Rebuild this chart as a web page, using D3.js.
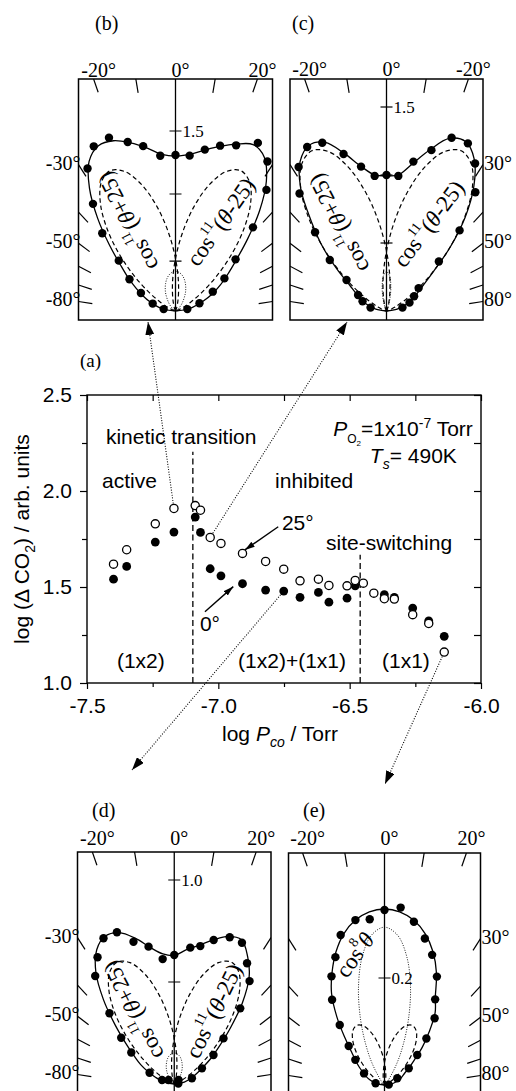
<!DOCTYPE html>
<html><head><meta charset="utf-8">
<script src="https://cdn.jsdelivr.net/npm/d3@7"></script>
<style>body{margin:0;background:#fff}svg{display:block}</style>
</head><body>
<svg id="c" width="516" height="1091"></svg>
<script>
// ---------------- main chart (a) data ----------------
const pco25  = [-7.399,-7.349,-7.240,-7.169,-7.088,-7.068,-7.031,-6.990,-6.908,-6.820,-6.751,-6.689,-6.619,-6.579,-6.510,-6.479,-6.448,-6.408,-6.368,-6.330,-6.260,-6.199,-6.140];
const co2At25 = [1.619,1.694,1.829,1.909,1.924,1.900,1.758,1.727,1.675,1.633,1.593,1.532,1.541,1.508,1.506,1.534,1.520,1.468,1.439,1.437,1.356,1.310,1.161];
const pco0   = [-7.399,-7.349,-7.240,-7.169,-7.088,-7.068,-7.031,-6.990,-6.908,-6.820,-6.751,-6.689,-6.619,-6.579,-6.510,-6.479,-6.368,-6.330,-6.260,-6.199,-6.140];
const co2At0  = [1.541,1.607,1.734,1.786,1.864,1.784,1.595,1.558,1.517,1.484,1.479,1.446,1.472,1.421,1.442,1.506,1.460,1.446,1.390,1.324,1.243];
const xTickVals = [-7.5,-7.0,-6.5,-6.0];
const xMinorVals = [-7.25,-6.75,-6.25];
const yTickVals = [1.0,1.5,2.0,2.5];
const yMinorVals = [1.25,1.75,2.25];
const transitionX = [-7.097,-6.46];
const transitionTop = [2.205,1.668];

// ---------------- polar panels data (angle in deg, radial value) ----------------
const fitAngles = [-90,-80,-70,-65,-60,-55,-50,-45,-40,-35,-30,-25,-20,-15,-10,-5,0,5,10,15,20,25,30,35,40,45,50,55,60,65,70,80,90];
const lobeAngles = [-35,-30,-25,-20,-15,-10,-5,0,5,10,15,20,25,30,35,40,45,50,55,60,65,70,75,80,90];
const dotAngles = [-90,-60,-50,-40,-30,-25,-20,-15,-10,-5,0,5,10,15,20,25,30,40,50,60,90];
const borderTopAngles = [-20,-10,10,20];
const borderSideAngles = [30,40,50,60,70,80];

// (b)
const bAng = [-81,-72,-62.5,-55.4,-48.4,-43.3,-37.6,-31.7,-26.4,-21.0,-15.8,-11.1,-5.6,0,5.2,10.3,15.1,20.1,26.1,31.6,36.9,42.8,49.3,56.3,62.6,72,81];
const bVal = [0.1,0.2,0.325,0.466,0.632,0.89,1.127,1.395,1.532,1.547,1.463,1.4,1.30,1.30,1.30,1.367,1.427,1.47,1.56,1.462,1.262,0.95,0.66,0.49,0.35,0.21,0.1];
const bFit = [0,0.12,0.23,0.3,0.38,0.48,0.6,0.78,1.01,1.25,1.44,1.52,1.51,1.45,1.38,1.31,1.29,1.31,1.36,1.42,1.48,1.53,1.48,1.32,1.09,0.85,0.66,0.53,0.43,0.34,0.25,0.12,0];
const bLobe = [0.001,0.003,0.01,0.028,0.068,0.143,0.266,0.437,0.651,0.881,1.09,1.237,1.29,1.237,1.09,0.881,0.651,0.437,0.266,0.143,0.068,0.028,0.01,0.003,0];
const bDot = [0,0.01,0.036,0.087,0.161,0.202,0.242,0.278,0.306,0.324,0.33,0.324,0.306,0.278,0.242,0.202,0.161,0.087,0.036,0.01,0];
// (c)
const cAng = [-78,-68,-60.6,-52.2,-48,-42.2,-36.5,-31.4,-25.8,-20.9,-15.3,-10,-5,0,5,10.2,15.6,20.6,25.9,31,36.8,42.2,46.6,54.5,62,70,78];
const cVal = [0.12,0.19,0.24,0.372,0.561,0.782,1.075,1.24,1.34,1.324,1.197,1.078,0.997,1.0,0.997,1.116,1.228,1.361,1.37,1.265,1.091,0.8,0.53,0.29,0.23,0.18,0.12];
const cFit = [0,0.08,0.17,0.21,0.26,0.33,0.47,0.66,0.86,1.1,1.27,1.345,1.32,1.2,1.08,1.005,0.995,1.005,1.1,1.225,1.35,1.375,1.29,1.12,0.9,0.66,0.45,0.33,0.26,0.21,0.17,0.08,0];
const cLobe = [0.001,0.003,0.01,0.029,0.069,0.144,0.268,0.441,0.657,0.888,1.099,1.247,1.3,1.247,1.099,0.888,0.657,0.441,0.268,0.144,0.069,0.029,0.01,0.003,0];
const cDot = [0,0,0,0,0.004,0.015,0.045,0.102,0.183,0.259,0.29,0.259,0.183,0.102,0.045,0.015,0.004,0,0,0,0];
// (d)
const dAng = [-72,-65.4,-55,-53.8,-48.9,-42.5,-36.2,-31.2,-25.9,-20.7,-16,-10.6,-5.3,0,6.7,10.7,15.3,20.7,25.6,31.1,36.2,41.1,47,47.2,53.6,60.5,72,85];
const dVal = [0.063,0.133,0.034,0.261,0.345,0.47,0.656,0.726,0.794,0.795,0.725,0.685,0.615,0.632,0.673,0.688,0.732,0.769,0.768,0.691,0.625,0.492,0.029,0.329,0.239,0.156,0.091,0.02];
const dFit = [0,0.05,0.1,0.14,0.19,0.24,0.31,0.41,0.54,0.67,0.76,0.8,0.79,0.74,0.68,0.64,0.63,0.66,0.69,0.73,0.77,0.78,0.72,0.64,0.52,0.39,0.29,0.22,0.16,0.12,0.09,0.05,0];
const dLobe = [0,0.001,0.005,0.015,0.035,0.073,0.136,0.224,0.333,0.451,0.558,0.633,0.66,0.633,0.558,0.451,0.333,0.224,0.136,0.073,0.035,0.015,0.005,0.001,0];
const dDot = [0,0.005,0.017,0.04,0.074,0.093,0.111,0.128,0.141,0.149,0.152,0.149,0.141,0.128,0.111,0.093,0.074,0.04,0.017,0.005,0];
// (e)
const eAng = [-79,-60.5,-49.2,-42.5,-36.7,-31.6,-26,-21,-16.3,-10,-5.1,0,5.2,10.2,15.4,20.1,25.8,30.6,36.9,42,47.5,55.5,62.2,85];
const eVal = [0.017,0.044,0.072,0.099,0.14,0.187,0.226,0.256,0.292,0.313,0.311,0.327,0.333,0.31,0.284,0.259,0.225,0.186,0.156,0.117,0.083,0.055,0.027,0.008];
const eFit = [0,0.016,0.03,0.038,0.046,0.057,0.07,0.087,0.115,0.155,0.198,0.232,0.265,0.293,0.313,0.325,0.329,0.325,0.313,0.293,0.265,0.23,0.19,0.165,0.13,0.1,0.073,0.056,0.043,0.036,0.03,0.016,0];
const eLobe = [0,0,0.001,0.003,0.007,0.014,0.025,0.042,0.062,0.084,0.104,0.118,0.123,0.118,0.104,0.084,0.062,0.042,0.025,0.014,0.007,0.003,0.001,0,0];
const eDot = [0,0,0.001,0.009,0.045,0.082,0.131,0.188,0.242,0.281,0.295,0.281,0.242,0.188,0.131,0.082,0.045,0.009,0.001,0,0];

// ---------------- drawing ----------------
const SANS = "'Liberation Sans', Arial, Helvetica, sans-serif";
const SERIF = "'Liberation Serif', 'Times New Roman', Times, serif";
const svg = d3.select('#c');
svg.append('rect').attr('width',516).attr('height',1091).attr('fill','#fff');
const defs = svg.append('defs');
function marker(id, len, wid){
  defs.append('marker').attr('id',id).attr('viewBox',`0 0 ${len} ${wid}`)
    .attr('refX',len).attr('refY',wid/2).attr('markerWidth',len).attr('markerHeight',wid)
    .attr('markerUnits','userSpaceOnUse').attr('orient','auto')
    .append('path').attr('d',`M0,0 L${len},${wid/2} L0,${wid} Z`).attr('fill','#000');
}
marker('ahBig',13,9);
marker('ahSmall',10,6);

// main chart scales
const x = d3.scaleLinear().domain([-7.5,-6.0]).range([87,481]);
const y = d3.scaleLinear().domain([1.0,2.5]).range([683,395]);
const main = svg.append('g');
const fmt = d => d.toFixed(1);

function styleAxis(sel){
  sel.selectAll('path.domain').remove();
  sel.selectAll('line').attr('stroke','#000').attr('stroke-width',1.2);
  sel.selectAll('text').attr('font-family',SANS).attr('font-size',21).attr('fill','#000');
}
main.append('g').attr('transform',`translate(0,${y(1)})`)
  .call(d3.axisBottom(x).tickValues(xTickVals).tickFormat(fmt).tickSize(6).tickPadding(9)).call(styleAxis);
main.append('g').attr('transform',`translate(0,${y(1)})`)
  .call(d3.axisBottom(x).tickValues(xMinorVals).tickFormat('').tickSize(4)).call(styleAxis);
main.append('g').attr('transform',`translate(0,${y(2.5)})`)
  .call(d3.axisTop(x).tickValues(xTickVals.concat(xMinorVals)).tickFormat('').tickSize(-6)).call(styleAxis);
main.append('g').attr('transform',`translate(${x(-7.5)},0)`)
  .call(d3.axisLeft(y).tickValues(yTickVals).tickFormat(fmt).tickSize(7).tickPadding(8)).call(styleAxis);
main.append('g').attr('transform',`translate(${x(-7.5)},0)`)
  .call(d3.axisLeft(y).tickValues(yMinorVals).tickFormat('').tickSize(5)).call(styleAxis);
main.append('g').attr('transform',`translate(${x(-6.0)},0)`)
  .call(d3.axisRight(y).tickValues(yTickVals.concat(yMinorVals)).tickFormat('').tickSize(-7)).call(styleAxis);
main.append('rect').attr('x',x(-7.5)).attr('y',y(2.5)).attr('width',x(-6)-x(-7.5)).attr('height',y(1)-y(2.5))
  .attr('fill','none').attr('stroke','#000').attr('stroke-width',1.4);

main.selectAll('line.trans').data(d3.zip(transitionX,transitionTop)).join('line')
  .attr('x1',d=>x(d[0])).attr('x2',d=>x(d[0])).attr('y1',y(1)).attr('y2',d=>y(d[1]))
  .attr('stroke','#000').attr('stroke-width',1.3).attr('stroke-dasharray','6,3.5');

const linkArrows = [
  {from:[-7.169,1.909], to:[148,322]},
  {from:[-7.031,1.758], to:[347,322]},
  {from:[-6.751,1.479], to:[132,770]},
  {from:[-6.140,1.161], to:[385,784]}
];
linkArrows.forEach(a=>{
  const sx=x(a.from[0]), sy=y(a.from[1]);
  const dx=a.to[0]-sx, dy=a.to[1]-sy, L=Math.hypot(dx,dy);
  main.append('line').attr('x1',sx+dx/L*5).attr('y1',sy+dy/L*5).attr('x2',a.to[0]).attr('y2',a.to[1])
    .attr('stroke','#000').attr('stroke-width',1.1).attr('stroke-dasharray','1,1.6')
    .attr('marker-end','url(#ahBig)');
});

main.selectAll('circle.f').data(d3.zip(pco0,co2At0)).join('circle')
  .attr('cx',d=>x(d[0])).attr('cy',d=>y(d[1])).attr('r',4.4).attr('fill','#000');
main.selectAll('circle.o').data(d3.zip(pco25,co2At25)).join('circle')
  .attr('cx',d=>x(d[0])).attr('cy',d=>y(d[1])).attr('r',4.1).attr('fill','#fff').attr('stroke','#000').attr('stroke-width',1.3);

const angleArrows = [
  {from:[-6.772,1.814], to:[-6.899,1.693]},
  {from:[-7.051,1.371], to:[-6.943,1.502]}
];
angleArrows.forEach(a=>{
  main.append('line').attr('x1',x(a.from[0])).attr('y1',y(a.from[1])).attr('x2',x(a.to[0])).attr('y2',y(a.to[1]))
    .attr('stroke','#000').attr('stroke-width',1.4).attr('marker-end','url(#ahSmall)');
});

function ann(html, xv, yv, anchor, font, size){
  main.append('text').attr('x',x(xv)).attr('y',y(yv)).attr('text-anchor',anchor||'start')
    .attr('font-family',font||SANS).attr('font-size',size||21).attr('fill','#000').html(html);
}
ann('kinetic transition',-7.428,2.245);
ann('active',-7.443,2.016);
ann('inhibited',-6.784,2.016);
ann('<tspan font-style="italic">P</tspan><tspan font-size="12" dy="7">O</tspan><tspan font-size="8" dy="3">2</tspan><tspan dy="-10">=1x10</tspan><tspan font-size="14" dy="-8">-7</tspan><tspan dy="8"> Torr</tspan>',-6.031,2.286,'end');
ann('<tspan font-style="italic">T</tspan><tspan font-style="italic" font-size="14" dy="6">s</tspan><tspan dy="-6">= 490K</tspan>',-6.092,2.146,'end');
ann('25°',-6.758,1.797);
ann('site-switching',-6.59,1.693);
ann('0°',-7.07,1.271);
ann('(1x2)',-7.386,1.078);
ann('(1x2)+(1x1)',-6.925,1.078);
ann('(1x1)',-6.377,1.078);
ann('(a)',-7.527,2.646,'start',SERIF,19);

main.append('text').attr('x',280).attr('y',741).attr('text-anchor','middle')
  .attr('font-family',SANS).attr('font-size',21).attr('fill','#000')
  .html('log <tspan font-style="italic">P</tspan><tspan font-style="italic" font-size="14" dy="6">co</tspan><tspan dy="-6"> / Torr</tspan>');
main.append('text').attr('transform',`translate(29,${(y(1)+y(2.5))/2}) rotate(-90)`).attr('text-anchor','middle')
  .attr('font-family',SANS).attr('font-size',21).attr('fill','#000')
  .html('log (Δ CO<tspan font-size="14" dy="6">2</tspan><tspan dy="-6">) / arb. units</tspan>');

// ---------------- polar panels ----------------
const rad = d => d*Math.PI/180;
function polarPanel(p){
  const cx = p.left + p.width/2, oy = p.top + 232;
  const tcy = p.top + 238;
  const r = d3.scaleLinear().domain([0,1]).range([0,p.k]);
  const g = svg.append('g');
  const clipId = 'clip'+p.id;
  defs.append('clipPath').attr('id',clipId).append('rect')
    .attr('x',p.left).attr('y',p.top).attr('width',p.width).attr('height',p.height);
  const inner = g.append('g').attr('clip-path',`url(#${clipId})`);
  inner.append('line').attr('x1',cx).attr('x2',cx).attr('y1',p.top).attr('y2',p.top+p.height)
    .attr('stroke','#000').attr('stroke-width',1.3);
  const tl = 14;
  function tick(px,py){
    const dx=cx-px, dy=tcy-py, L=Math.hypot(dx,dy);
    inner.append('line').attr('x1',px).attr('y1',py).attr('x2',px+dx/L*tl).attr('y2',py+dy/L*tl)
      .attr('stroke','#000').attr('stroke-width',1.2);
  }
  borderTopAngles.forEach(a=>tick(cx+225*Math.tan(rad(a)), p.top));
  borderSideAngles.forEach(a=>{
    const yy = tcy - 88/Math.tan(rad(a));
    tick(p.left,yy); tick(p.left+p.width,yy);
  });
  const o = inner.append('g').attr('transform',`translate(${cx},${oy})`);
  const line = d3.lineRadial().angle(d=>rad(d[0])).radius(d=>r(d[1])).curve(d3.curveCatmullRom);
  o.append('path').datum(d3.zip(dotAngles,p.dot)).attr('d',line).attr('fill','none')
    .attr('stroke','#000').attr('stroke-width',0.9).attr('stroke-dasharray','1,1.5');
  o.append('path').datum(d3.zip(lobeAngles,p.lobe)).attr('d',line).attr('fill','none')
    .attr('stroke','#000').attr('stroke-width',1.2).attr('stroke-dasharray','4.5,3');
  o.append('path').datum(d3.zip(lobeAngles.map(a=>-a),p.lobe)).attr('d',line).attr('fill','none')
    .attr('stroke','#000').attr('stroke-width',1.2).attr('stroke-dasharray','4.5,3');
  o.append('path').datum(d3.zip(fitAngles,p.fit)).attr('d',line).attr('fill','none')
    .attr('stroke','#000').attr('stroke-width',1.3);
  p.rTicks.forEach(v=>{
    o.append('line').attr('x1',-6).attr('x2',6).attr('y1',-r(v)).attr('y2',-r(v)).attr('stroke','#000').attr('stroke-width',1.2);
  });
  o.selectAll('circle').data(d3.zip(p.ang,p.val)).join('circle')
    .attr('cx',d=>d3.pointRadial(rad(d[0]),r(d[1]))[0]).attr('cy',d=>d3.pointRadial(rad(d[0]),r(d[1]))[1])
    .attr('r',4.2).attr('fill','#000');
  g.append('text').attr('x',cx+7).attr('y',oy-r(p.rLabel[0])+6).attr('font-family',SERIF).attr('font-size',17)
    .attr('fill','#000').text(p.rLabel[1]);
  g.append('rect').attr('x',p.left).attr('y',p.top).attr('width',p.width).attr('height',p.height)
    .attr('fill','none').attr('stroke','#000').attr('stroke-width',1.5);
  [-20,0,20].forEach((a,i)=>{
    g.append('text').attr('x',cx+225*Math.tan(rad(a))+5).attr('y',p.topLabelY).attr('text-anchor','middle')
      .attr('font-family',SERIF).attr('font-size',20).attr('fill','#000').text(p.topLabels[i]);
  });
  [30,50,80].forEach((a,i)=>{
    const yy = tcy - 88/Math.tan(rad(a)) + 5;
    const left = p.side==='left';
    g.append('text').attr('x',left? p.left+2 : p.left+p.width+1).attr('y',yy)
      .attr('text-anchor',left?'end':'start').attr('font-family',SERIF).attr('font-size',20).attr('fill','#000')
      .text(p.sideLabels[i]);
  });
  g.append('text').attr('x',p.letter[1]).attr('y',p.letter[2]).attr('font-family',SERIF).attr('font-size',20)
    .attr('fill','#000').text(p.letter[0]);
  p.fnLabels.forEach(l=>{
    g.append('text').attr('transform',`translate(${l.x},${l.y}) rotate(${l.rot})`).attr('text-anchor','middle')
      .attr('dominant-baseline','central').attr('font-family',SERIF).attr('font-size',23).attr('fill','#000').html(l.html);
  });
}
const lobeP = 'cos<tspan font-size="14" dy="-9">11</tspan><tspan dy="9">(</tspan><tspan font-style="italic">θ</tspan>+25)';
const lobeM = 'cos<tspan font-size="14" dy="-9">11</tspan><tspan dy="9">(</tspan><tspan font-style="italic">θ</tspan>-25)';
polarPanel({id:'b',left:78.5,top:79,width:194,height:241,k:120,ang:bAng,val:bVal,fit:bFit,lobe:bLobe,dot:bDot,
  rTicks:[0.415,0.975,1.5],rLabel:[1.5,'1.5'],topLabelY:77,topLabels:['-20°','0°','20°'],side:'left',
  sideLabels:['-30°','-50°','-80°'],letter:['(b)',95,30],
  fnLabels:[{x:128,y:221,rot:-117,html:lobeP},{x:221,y:222,rot:-55,html:lobeM}]});
polarPanel({id:'c',left:290,top:79,width:193,height:241,k:136,ang:cAng,val:cVal,fit:cFit,lobe:cLobe,dot:cDot,
  rTicks:[0.5,1.0,1.5],rLabel:[1.5,'1.5'],topLabelY:76,topLabels:['-20°','0°','-20°'],side:'right',
  sideLabels:['30°','50°','80°'],letter:['(c)',292,30],
  fnLabels:[{x:339,y:223,rot:-117,html:lobeP},{x:429,y:224,rot:-53,html:lobeM}]});
polarPanel({id:'d',left:77.5,top:852,width:193.5,height:260,k:204,ang:dAng,val:dVal,fit:dFit,lobe:dLobe,dot:dDot,
  rTicks:[0.5,1.0],rLabel:[1.0,'1.0'],topLabelY:845,topLabels:['-20°','0°','20°'],side:'left',
  sideLabels:['-30°','-50°','-80°'],letter:['(d)',92,817],
  fnLabels:[{x:133.5,y:1010,rot:-117,html:lobeP},{x:214,y:1011,rot:-64,html:lobeM}]});
polarPanel({id:'e',left:288.5,top:853,width:192,height:260,k:535,ang:eAng,val:eVal,fit:eFit,lobe:eLobe,dot:eDot,
  rTicks:[0.2],rLabel:[0.2,'0.2'],topLabelY:845,topLabels:['-20°','0°','20°'],side:'right',
  sideLabels:['30°','50°','80°'],letter:['(e)',303,817],
  fnLabels:[{x:355,y:955,rot:-55,html:'cos<tspan font-size="14" dy="-9">8</tspan><tspan dy="9" font-style="italic">θ</tspan>'}]});
</script>
</body></html>
